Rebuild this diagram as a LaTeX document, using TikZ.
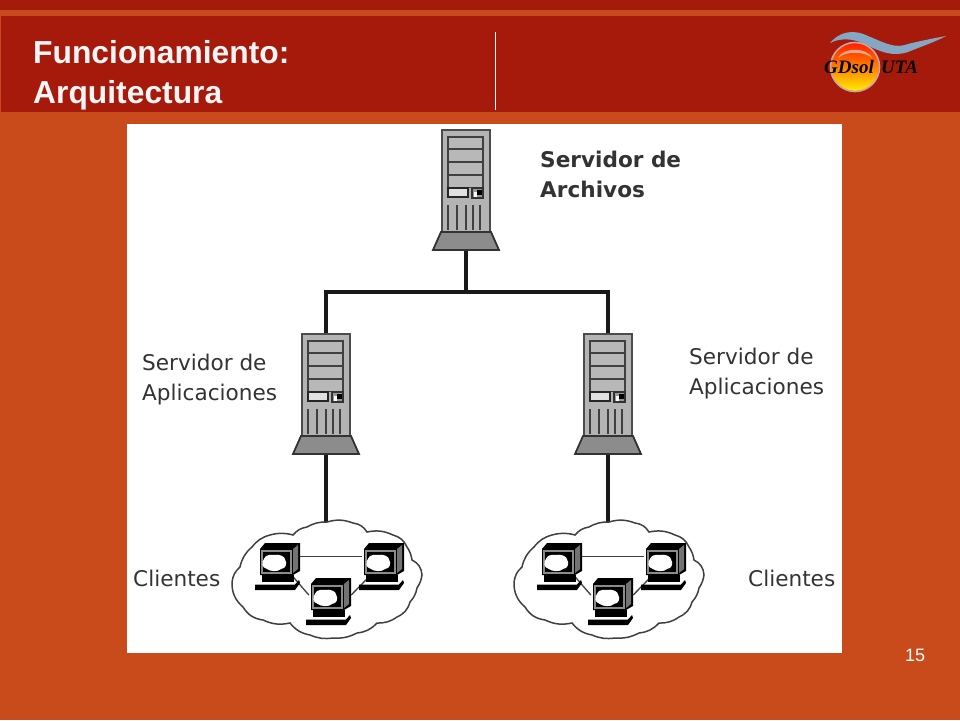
\documentclass[tikz,border=0pt]{standalone}
\usepackage{fontspec}
\setmainfont{Liberation Sans}
\newfontfamily\labelfont{DejaVu Sans}
\newfontfamily\logofont{Liberation Serif}
\usetikzlibrary{positioning}
\definecolor{slidebg}{HTML}{C94A1A}
\definecolor{headbg}{HTML}{A51A0B}
\definecolor{towergray}{HTML}{B4B4B4}
\definecolor{swoosh}{HTML}{7FC0E4}
\tikzset{
	titletext/.style={text=white!96!black,anchor=base west,inner sep=0pt,font=\fontsize{31.8}{32}\selectfont\bfseries},
	boxlabel/.style={text=black!80,anchor=west,align=left,inner sep=0pt,font=\labelfont\fontsize{21.6}{30}\selectfont},
	logotext/.style={inner sep=0pt,anchor=base west,font=\logofont\fontsize{19}{20}\selectfont\bfseries\itshape},
	servernode/.style={inner sep=0pt,minimum width=66pt,minimum height=120pt},
	clientnode/.style={inner sep=0pt,minimum width=42pt,minimum height=34pt},
	wire/.style={line width=3.2pt,black!90},
	thinwire/.style={line width=1.3pt,black!75},
	server/.pic={
		\fill [towergray] (-24,-60) rectangle (24,42);
		\draw [line width=2.4pt,black!70] (-24,-60) rectangle (24,42);
		\foreach \y in {-53,-41,-28,-15} {
			\draw [line width=1.9pt,black!75,fill=black!28] (-18,\y) rectangle (17,\y+12.5);
		}
		\draw [line width=1.7pt,black!85,fill=black!12] (-18,-2) rectangle (2,7);
		\draw [line width=1.7pt,black!80,fill=black!40] (6,-2) rectangle (17,8);
		\fill [white] (7.5,2) rectangle (11,7);
		\fill [black] (11,0) rectangle (16,5);
		\foreach \x in {-18,-9,0,7,14} {
			\draw [line width=2.4pt,black!75] (\x,15) -- (\x,40);
		}
		\draw [line width=1.8pt,black!80,fill=black!45] (-25,42) -- (25,42) -- (33,60) -- (-33,60) -- cycle;
	},
	client/.pic={
		\fill [black] (-19,-11) -- (-14,-17) -- (21,-17) -- (21,11) -- (14,15) -- (-19,15) -- cycle;
		\fill [black!55] (14,-11) -- (19,-15) -- (19,9) -- (14,13) -- cycle;
		\draw [black!45,line width=1.1pt] (-17,-9) rectangle (12,13);
		\begin{scope}[shift={(-2.5,2.5)},scale=1.25]
			\fill [white] (-10,-3) .. controls (-9,-7) and (-3,-6) .. (-2,-6) .. controls (2,-7) and (7,-5) .. (7,-2)
				.. controls (9,1) and (7,5) .. (4,5) .. controls (1,8) and (-6,7) .. (-8,5) .. controls (-12,4) and (-12,0) .. (-10,-3);
		\end{scope}
		\fill [black] (-17,15) rectangle (15,22);
		\fill [black] (-24,24.5) -- (16,24.5) -- (20,20) -- (21,23) -- (16,30) -- (-24,30) -- cycle;
	}
}
\begin{document}
\begin{tikzpicture}[x=1pt,y=-1pt]
	\useasboundingbox (0,0) rectangle (960,720);
	% slide
	\fill [slidebg] (0,0) rectangle (960,720);
	\fill [headbg] (0,0) rectangle (960,10);
	\fill [headbg] (1,16) rectangle (960,112);
	\draw [white,line width=1.2pt] (495.5,32) -- (495.5,110);
	\node [titletext] (titleA) at (33,63.5) {Funcionamiento:};
	\node [titletext] (titleB) at (33,103.5) {Arquitectura};
	\node [text=white,inner sep=0pt,font=\fontsize{18}{18}\selectfont] (pagenum) at (915,655) {15};
	% logo
	\fill [swoosh,opacity=.85] (830,43) .. controls (838,33) and (852,28) .. (868,36) .. controls (885,43) and (895,49) .. (908,44)
		.. controls (920,41) and (935,38) .. (946,36) .. controls (935,42) and (920,47) .. (908,52)
		.. controls (893,57) and (880,52) .. (865,44) .. controls (852,38) and (840,38) .. (830,43) -- cycle;
	\shade [top color=red!75!orange,bottom color=yellow!85!orange,middle color=orange] (855,67) circle (24);
	\draw [line width=1.6pt,red!20!white!80!black] (855,67) circle (24.5);
	\fill [white,opacity=.55] (838,58) .. controls (843,47) and (867,47) .. (872,58) .. controls (865,51) and (845,51) .. (838,58) -- cycle;
	\node [logotext] (logoA) at (824,73) {GDsol};
	\node [logotext] (logoB) at (881,73) {UTA};
	% image
	\fill [white] (127,124) rectangle (842,653);
	\node [servernode] (srvTop) at (466,190) {};
	\node [servernode] (srvLeft) at (326,394) {};
	\node [servernode] (srvRight) at (608,394) {};
	\coordinate (busLeft) at (326,292);
	\coordinate (busMid) at (466,292);
	\coordinate (busRight) at (608,292);
	\coordinate (cloudLeft) at (326,522);
	\coordinate (cloudRight) at (608,522);
	\node [clientnode] (pcA) at (279,560) {};
	\node [clientnode] (pcB) at (383,560) {};
	\node [clientnode] (pcC) at (330,595) {};
	\node [clientnode] (pcD) at (561,560) {};
	\node [clientnode] (pcE) at (665,560) {};
	\node [clientnode] (pcF) at (612,595) {};
	% wires
	\draw [wire] (srvTop.south) -- (busMid);
	\draw [wire] (srvLeft.north) -- (busLeft) -- (busRight) -- (srvRight.north);
	\draw [wire] (srvLeft.south) -- (cloudLeft);
	\draw [wire] (srvRight.south) -- (cloudRight);
	\foreach \a/\b/\c in {pcA/pcB/pcC,pcD/pcE/pcF} {
		\draw [thinwire] (\a.10) -- (\b.170);
		\draw [thinwire] (\a.-50) -- (\c.west);
		\draw [thinwire] (\b.-130) -- (\c.east);
	}
	% servers
	\foreach \s in {srvTop,srvLeft,srvRight} {
		\pic at (\s) {server};
	}
	% clouds
	\foreach \dx in {0,282} {
		\draw [line width=1.5pt,black!75,xshift=\dx] (327,522) to[bend left=18] (353,523) to[bend left=25] (367,532)
			to[bend left=18] (393,535) to[bend left=25] (407,547) to[bend left=12] (412,560) to[bend left=30] (422,575)
			to[bend left=12] (417,588) to[bend left=15] (410,602) to[bend left=25] (397,617) to[bend left=18] (377,623)
			to[bend left=20] (357,633) to[bend left=15] (333,638) to[bend left=15] (310,635) to[bend left=20] (290,623)
			to[bend left=18] (263,620) to[bend left=25] (243,607) to[bend left=25] (232,582) to[bend left=20] (240,567)
			to[bend left=18] (252,547) to[bend left=18] (270,535) to[bend left=15] (293,535) to[bend left=20] (307,527)
			to[bend left=15] (327,522);
	}
	% clients
	\foreach \p in {pcA,pcB,pcC,pcD,pcE,pcF} {
		\pic at (\p) {client};
	}
	% labels
	\node [boxlabel,font=\labelfont\fontsize{21.6}{30}\selectfont\bfseries] (lblFiles) at (540,174) {Servidor de\\Archivos};
	\node [boxlabel] (lblAppsA) at (142,380) {Servidor de\\Aplicaciones};
	\node [boxlabel] (lblAppsB) at (689,374) {Servidor de\\Aplicaciones};
	\node [boxlabel] (lblClientsA) at (133,578) {Clientes};
	\node [boxlabel] (lblClientsB) at (748,578) {Clientes};
\end{tikzpicture}
\end{document}
